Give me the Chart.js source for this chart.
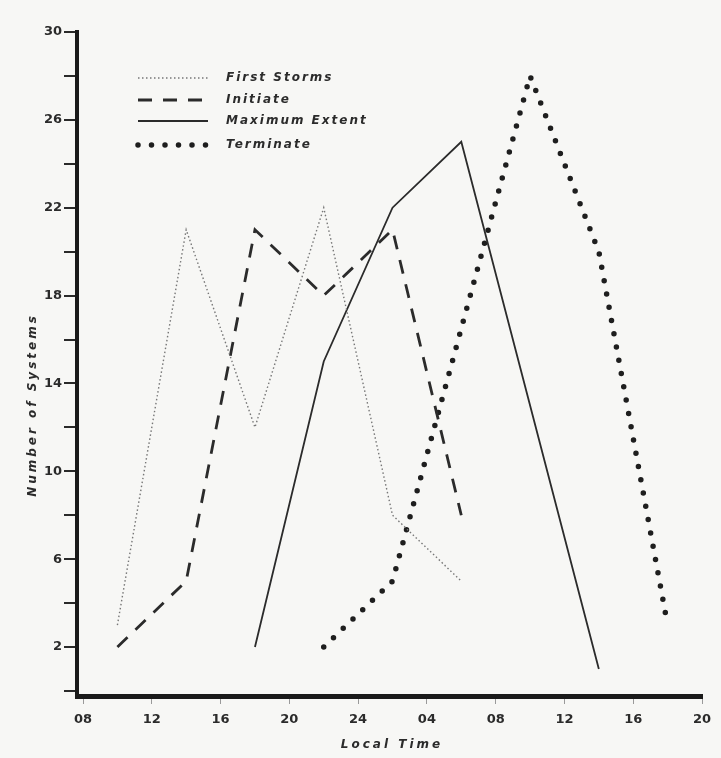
<!DOCTYPE html>
<html lang="en">
<head>
    <meta charset="UTF-8">
    <title>Storm Systems by Local Time</title>
    <script src="https://cdn.jsdelivr.net/npm/chart.js"></script>
    <style>
        html, body { margin: 0; padding: 0; background: #f7f7f5; }
        #wrap { width: 721px; height: 758px; }
    </style>
</head>
<body>
    <div id="wrap"><canvas id="myChart" width="721" height="758"></canvas></div>

    <script>
        // hours counted from 08 on day one (24 = midnight, 32 = 08 next day)
        const xTicks = [8, 12, 16, 20, 24, 28, 32, 36, 40, 44];
        const xTickLabels = ['08', '12', '16', '20', '24', '04', '08', '12', '16', '20'];
        const yTicks = [0, 2, 4, 6, 8, 10, 12, 14, 16, 18, 20, 22, 24, 26, 28, 30];

        const seriesNames = ['First Storms', 'Initiate', 'Maximum Extent', 'Terminate'];

        const firstHours = [10, 14, 18, 22, 26, 30];
        const firstCounts = [3, 21, 12, 22, 8, 5];

        const initHours = [10, 14, 18, 22, 26, 30];
        const initCounts = [2, 5, 21, 18, 21, 8];

        const maxHours = [18, 22, 26, 30, 38];
        const maxCounts = [2, 15, 22, 25, 1];

        const termHours = [22, 26, 34, 38, 42];
        const termCounts = [2, 5, 28, 20, 3];

        const ink = '#2b2b2b';
        const pts = (xs, ys) => xs.map((x, i) => ({ x: x, y: ys[i] }));

        // legend + axis titles drawn inside the plot, like the original figure
        const paperText = {
            id: 'paperText',
            afterDraw(chart) {
                const ctx = chart.ctx;
                const rows = [78, 100, 121, 145];
                ctx.save();
                chart.data.datasets.forEach((ds, i) => {
                    ctx.beginPath();
                    ctx.strokeStyle = ds.borderColor;
                    ctx.lineWidth = ds.borderWidth;
                    ctx.lineCap = ds.borderCapStyle || 'butt';
                    ctx.setLineDash(ds.borderDash || []);
                    ctx.moveTo(138, rows[i]);
                    ctx.lineTo(208, rows[i]);
                    ctx.stroke();
                    ctx.setLineDash([]);
                    ctx.fillStyle = ink;
                    ctx.font = 'italic bold 12px "DejaVu Sans"';
                    ctx.letterSpacing = '2px';
                    ctx.textBaseline = 'middle';
                    ctx.fillText(ds.label, 226, rows[i]);
                });

                ctx.font = 'italic bold 12px "DejaVu Sans"';
                ctx.letterSpacing = '3px';
                ctx.textAlign = 'center';
                ctx.textBaseline = 'middle';
                ctx.fillText('Local Time', 392, 745);

                ctx.translate(33, 405);
                ctx.rotate(-Math.PI / 2);
                ctx.fillText('Number of Systems', 0, 0);
                ctx.restore();
            }
        };

        new Chart(document.getElementById('myChart'), {
            type: 'line',
            data: {
                datasets: [
                    {
                        label: seriesNames[0],
                        data: pts(firstHours, firstCounts),
                        borderColor: '#777777',
                        borderWidth: 1.4,
                        borderDash: [1.5, 2.5]
                    },
                    {
                        label: seriesNames[1],
                        data: pts(initHours, initCounts),
                        borderColor: ink,
                        borderWidth: 2.8,
                        borderDash: [14, 11]
                    },
                    {
                        label: seriesNames[2],
                        data: pts(maxHours, maxCounts),
                        borderColor: ink,
                        borderWidth: 1.8
                    },
                    {
                        label: seriesNames[3],
                        data: pts(termHours, termCounts),
                        borderColor: '#1e1e1e',
                        borderWidth: 5.5,
                        borderCapStyle: 'round',
                        borderDash: [0, 13.5]
                    }
                ]
            },
            options: {
                responsive: false,
                animation: false,
                layout: { padding: { top: 32, right: 19, left: 0, bottom: 0 } },
                elements: {
                    point: { radius: 0 },
                    line: { tension: 0, fill: false }
                },
                plugins: {
                    legend: { display: false },
                    tooltip: { enabled: false }
                },
                scales: {
                    x: {
                        type: 'linear',
                        min: 7.65,
                        max: 44,
                        afterBuildTicks: s => { s.ticks = xTicks.map(v => ({ value: v })); },
                        afterFit: s => { s.height = 62; },
                        border: { display: true, color: '#1a1a1a', width: 5 },
                        grid: { drawOnChartArea: false, drawTicks: true, tickLength: 8, color: '#9a9a9a', lineWidth: 1 },
                        ticks: {
                            padding: 8,
                            color: ink,
                            font: { family: 'DejaVu Sans', size: 13, weight: 'bold' },
                            maxRotation: 0,
                            callback: (v, i) => xTickLabels[i]
                        }
                    },
                    y: {
                        type: 'linear',
                        min: -0.23,
                        max: 30,
                        afterBuildTicks: s => { s.ticks = yTicks.map(v => ({ value: v })); },
                        afterFit: s => { s.width = 77; },
                        border: { display: true, color: '#1a1a1a', width: 4 },
                        grid: { drawOnChartArea: false, drawTicks: true, tickLength: 13, color: '#2a2a2a', lineWidth: 2 },
                        ticks: {
                            padding: 2,
                            color: ink,
                            font: { family: 'DejaVu Sans', size: 13, weight: 'bold' },
                            callback: v => ((v - 2) % 4 === 0 ? String(v) : '')
                        }
                    }
                }
            },
            plugins: [paperText]
        });
    </script>
</body>
</html>
